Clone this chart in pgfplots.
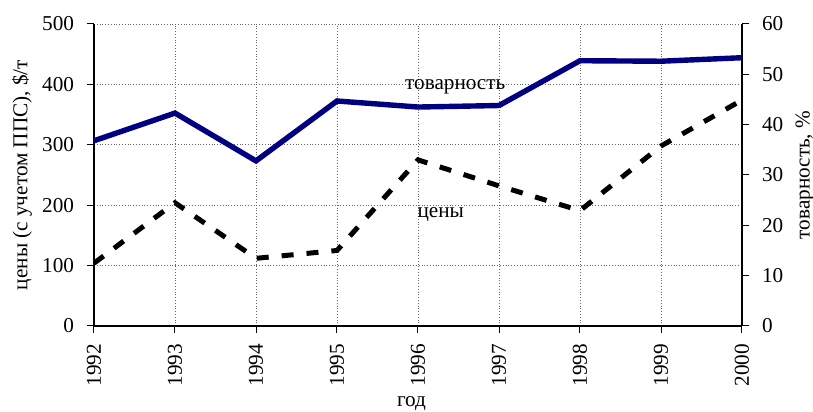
\documentclass[border=0pt]{standalone}
\usepackage{fontspec}
\setmainfont{Liberation Serif}
\usepackage{pgfplots}
\pgfplotsset{compat=1.18}
\definecolor{navyline}{HTML}{000080}
\begin{document}
\begin{tikzpicture}[font=\fontsize{10.6}{12}\selectfont]
\pgfplotsset{
  common/.style={
    scale only axis, width=324pt, height=151pt,
    xmin=1992, xmax=2000,
    /pgf/number format/assume math mode=true,
    /pgf/number format/1000 sep={},
    tick align=outside, major tick length=3.5pt,
    every tick/.style={black, line width=0.5pt},
  }
}
\begin{axis}[common,
  ymin=0, ymax=500,
  xtick={1992,1993,...,2000}, ytick={0,100,...,500},
  axis y line*=left, axis x line*=bottom,
  axis line style={-, line width=0.6pt},
  grid=major, grid style={gray!80!black, densely dotted, line width=0.4pt},
  x tick label style={rotate=90, anchor=east},
  xticklabel shift=2pt, yticklabel shift=3pt,
  ylabel={цены (с учетом ППС), \$/т},
  xlabel={год},
  ylabel style={at={(axis description cs:-0.111,0.5)}, anchor=center},
  xlabel style={at={(axis description cs:0.49,-0.258)}, anchor=center},
]
\addplot[black, line width=2.5pt, dash pattern=on 6pt off 6.5pt] coordinates {
  (1992,104) (1993,204) (1994,112) (1995,125) (1996,275)
  (1997,232) (1998,191) (1999,298) (2000,374)
};
\node[anchor=center] at (axis cs:1996.46,396) {товарность};
\node[anchor=center] at (axis cs:1996.28,184) {цены};
\coordinate (bl) at (rel axis cs:0,0);
\coordinate (tr) at (rel axis cs:1,1);
\end{axis}
\begin{axis}[common,
  ymin=0, ymax=60, ytick={0,10,...,60},
  axis y line*=right, axis x line=none,
  axis line style={-, line width=1pt},
  yticklabel shift=3pt,
  ylabel={товарность, \%},
  ylabel style={at={(axis description cs:1.097,0.5)}, anchor=center},
]
\addplot[navyline, line width=2.7pt] coordinates {
  (1992,36.8) (1993,42.3) (1994,32.8) (1995,44.7) (1996,43.5)
  (1997,43.8) (1998,52.7) (1999,52.6) (2000,53.3)
};
\end{axis}
\pgfresetboundingbox
\path[use as bounding box] ([shift={(-47pt,-43pt)}]bl) rectangle ([shift={(35.5pt,12pt)}]tr);
\end{tikzpicture}
\end{document}
